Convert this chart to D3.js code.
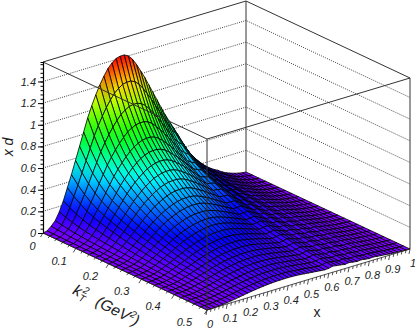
<!DOCTYPE html>
<html>
<head>
<meta charset="utf-8">
<script src="https://cdn.jsdelivr.net/npm/d3@7"></script>
<style>
  html, body { margin: 0; padding: 0; background: #fff; }
  svg { display: block; }
  text { font-family: "Liberation Sans", sans-serif; fill: #222; }
</style>
</head>
<body>
<svg id="chart" width="415" height="329"></svg>
<script>
// Mesh coordinates
const xMesh = [0, .02, .04, .06, .08, .1, .12, .14, .16, .18, .2, .22, .24, .26, .28, .3, .32, .34, .36, .38, .4, .42, .44, .46, .48, .5, .52, .54, .56, .58, .6, .62, .64, .66, .68, .7, .72, .74, .76, .78, .8, .82, .84, .86, .88, .9, .92, .94, .96, .98, 1];
const kMesh = [0, .02, .04, .06, .08, .1, .12, .14, .16, .18, .2, .22, .24, .26, .28, .3, .32, .34, .36, .38, .4, .42, .44, .46, .48, .5];

// x d, one row per kT^2 step, one column per x step
const zRows = [
  [0, .008, .04, .08, .15, .24, .35, .46, .58, .7, .82, .94, 1.04, 1.13, 1.21, 1.28, 1.34, 1.38, 1.41, 1.42, 1.42, 1.4, 1.36, 1.3, 1.23, 1.16, 1.08, 1, .92, .84, .76, .69, .62, .55, .47, .4, .34, .29, .245, .205, .17, .14, .115, .095, .07, .05, .035, .022, .012, .004, 0],
  [0, .007, .034, .068, .128, .204, .298, .391, .493, .595, .697, .799, .884, .96, 1.029, 1.088, 1.139, 1.173, 1.199, 1.207, 1.207, 1.19, 1.156, 1.105, 1.046, .986, .918, .85, .782, .714, .65, .601, .54, .479, .409, .354, .301, .257, .221, .185, .153, .128, .105, .087, .065, .046, .032, .02, .011, .004, 0],
  [0, .006, .029, .058, .109, .174, .254, .334, .42, .508, .595, .682, .754, .819, .877, .928, .972, 1, 1.022, 1.03, 1.03, 1.015, .986, .943, .892, .841, .783, .725, .667, .609, .56, .525, .472, .419, .358, .314, .267, .228, .199, .166, .138, .117, .096, .08, .06, .043, .03, .019, .01, .003, 0],
  [0, .005, .025, .05, .094, .15, .219, .288, .363, .438, .513, .588, .65, .706, .756, .8, .838, .863, .881, .888, .888, .875, .85, .813, .769, .725, .675, .625, .575, .525, .49, .463, .416, .369, .315, .281, .239, .204, .181, .151, .125, .108, .089, .073, .055, .04, .028, .017, .009, .003, 0],
  [0, .004, .022, .044, .082, .131, .191, .251, .316, .382, .447, .512, .567, .616, .659, .698, .73, .752, .768, .774, .774, .763, .741, .709, .67, .632, .589, .545, .501, .458, .43, .412, .37, .328, .281, .254, .216, .184, .165, .138, .115, .1, .082, .068, .052, .037, .026, .016, .009, .003, 0],
  [0, .004, .019, .039, .073, .116, .17, .223, .281, .34, .398, .456, .504, .548, .587, .621, .65, .669, .684, .689, .689, .679, .66, .631, .597, .563, .524, .485, .446, .407, .39, .373, .335, .298, .254, .232, .198, .168, .153, .128, .106, .094, .077, .064, .049, .035, .024, .015, .008, .003, 0],
  [0, .003, .017, .035, .065, .104, .152, .2, .252, .305, .357, .409, .452, .492, .526, .557, .583, .6, .613, .618, .618, .609, .592, .566, .535, .505, .47, .435, .4, .365, .35, .34, .306, .271, .232, .214, .182, .155, .143, .119, .099, .089, .073, .06, .046, .033, .023, .015, .008, .003, 0],
  [0, .003, .016, .031, .059, .094, .137, .179, .226, .273, .32, .367, .406, .441, .472, .499, .523, .538, .55, .554, .554, .546, .53, .507, .48, .452, .421, .39, .359, .328, .32, .31, .278, .247, .211, .197, .168, .143, .133, .111, .092, .083, .069, .057, .044, .031, .022, .014, .007, .002, 0],
  [0, .003, .014, .028, .053, .084, .123, .161, .203, .245, .287, .329, .364, .396, .424, .448, .469, .483, .494, .497, .497, .49, .476, .455, .431, .406, .378, .35, .322, .294, .29, .283, .254, .226, .193, .182, .155, .132, .124, .104, .086, .079, .065, .053, .041, .03, .021, .013, .007, .002, 0],
  [0, .002, .012, .025, .047, .075, .109, .144, .181, .218, .256, .293, .324, .353, .378, .399, .418, .431, .44, .443, .443, .437, .424, .406, .384, .362, .337, .312, .287, .262, .26, .256, .23, .204, .174, .167, .142, .121, .115, .096, .08, .074, .061, .05, .039, .028, .02, .012, .007, .002, 0],
  [0, .002, .011, .022, .042, .067, .097, .128, .161, .195, .228, .261, .289, .314, .336, .356, .373, .384, .392, .395, .395, .389, .378, .361, .342, .322, .3, .278, .256, .234, .233, .233, .209, .185, .158, .153, .13, .111, .107, .089, .074, .069, .057, .047, .037, .026, .018, .012, .006, .002, 0],
  [0, .002, .01, .02, .038, .06, .088, .115, .145, .175, .205, .235, .26, .283, .303, .32, .335, .345, .353, .355, .355, .35, .34, .325, .308, .29, .27, .25, .23, .21, .21, .213, .191, .169, .145, .142, .12, .103, .099, .083, .069, .065, .054, .044, .035, .025, .018, .011, .006, .002, 0],
  [0, .002, .009, .018, .033, .053, .078, .102, .129, .155, .182, .209, .231, .251, .269, .284, .297, .306, .313, .315, .315, .311, .302, .289, .273, .258, .24, .222, .204, .186, .19, .192, .172, .153, .131, .129, .11, .094, .092, .077, .064, .061, .05, .042, .033, .024, .016, .01, .006, .002, 0],
  [0, .002, .008, .016, .03, .048, .069, .091, .115, .139, .162, .186, .206, .224, .24, .253, .265, .273, .279, .281, .281, .277, .269, .257, .244, .23, .214, .198, .182, .166, .17, .174, .156, .139, .118, .119, .101, .086, .086, .072, .059, .057, .047, .039, .031, .022, .016, .01, .005, .002, 0],
  [0, .001, .007, .014, .027, .043, .062, .082, .103, .125, .146, .167, .185, .201, .215, .228, .239, .246, .251, .253, .253, .249, .242, .231, .219, .206, .192, .178, .164, .15, .155, .159, .143, .127, .109, .11, .093, .079, .08, .067, .055, .054, .045, .037, .03, .021, .015, .009, .005, .002, 0],
  [0, .001, .006, .013, .024, .038, .056, .073, .092, .111, .13, .149, .165, .18, .192, .204, .213, .219, .224, .226, .226, .223, .216, .207, .196, .184, .172, .159, .146, .134, .14, .144, .13, .115, .098, .101, .086, .073, .074, .062, .052, .051, .042, .035, .028, .02, .014, .009, .005, .002, 0],
  [0, .001, .006, .011, .021, .034, .05, .065, .082, .099, .116, .133, .148, .16, .172, .182, .19, .196, .2, .202, .202, .199, .193, .185, .175, .165, .153, .142, .131, .119, .125, .131, .118, .105, .089, .092, .079, .067, .069, .058, .048, .048, .039, .032, .026, .019, .013, .008, .005, .002, 0],
  [0, .001, .005, .01, .019, .03, .044, .058, .074, .089, .104, .119, .132, .144, .154, .163, .17, .175, .179, .18, .18, .178, .173, .165, .156, .147, .137, .127, .117, .107, .113, .119, .107, .095, .081, .085, .072, .062, .064, .054, .044, .045, .037, .03, .025, .018, .012, .008, .004, .001, 0],
  [0, .001, .005, .009, .017, .027, .04, .052, .066, .079, .093, .106, .118, .128, .137, .145, .151, .156, .159, .16, .16, .158, .154, .147, .139, .131, .122, .113, .104, .095, .1, .108, .097, .086, .074, .078, .066, .057, .059, .05, .041, .042, .035, .029, .024, .017, .012, .007, .004, .001, 0],
  [0, .001, .004, .008, .015, .024, .035, .046, .059, .071, .083, .095, .105, .114, .122, .129, .135, .139, .142, .143, .143, .141, .137, .131, .124, .117, .109, .101, .093, .085, .09, .099, .089, .079, .067, .072, .061, .052, .055, .046, .038, .04, .033, .027, .022, .016, .011, .007, .004, .001, 0],
  [0, .001, .004, .007, .014, .022, .032, .041, .052, .063, .074, .085, .094, .102, .109, .115, .121, .124, .127, .128, .128, .126, .122, .117, .111, .104, .097, .09, .083, .076, .08, .089, .08, .071, .061, .066, .056, .048, .051, .043, .036, .037, .031, .025, .021, .015, .011, .007, .004, .001, 0],
  [0, .001, .003, .006, .012, .019, .028, .037, .047, .057, .066, .076, .084, .092, .098, .104, .109, .112, .114, .115, .115, .113, .11, .105, .1, .094, .087, .081, .075, .068, .072, .081, .073, .065, .055, .061, .052, .044, .048, .04, .033, .035, .029, .024, .02, .014, .01, .006, .003, .001, 0],
  [0, .001, .003, .006, .011, .017, .025, .033, .042, .05, .059, .068, .075, .081, .087, .092, .096, .099, .102, .102, .102, .101, .098, .094, .089, .084, .078, .072, .066, .06, .065, .074, .066, .059, .05, .056, .047, .04, .044, .037, .031, .033, .027, .022, .019, .013, .009, .006, .003, .001, 0],
  [0, .001, .003, .005, .01, .016, .023, .03, .038, .046, .053, .061, .068, .073, .079, .083, .087, .09, .092, .092, .092, .091, .088, .085, .08, .075, .07, .065, .06, .055, .058, .068, .061, .054, .046, .052, .044, .037, .041, .035, .029, .031, .026, .021, .018, .013, .009, .006, .003, .001, 0],
  [0, 0, .002, .005, .009, .014, .02, .027, .034, .041, .048, .055, .06, .066, .07, .074, .078, .08, .082, .082, .082, .081, .079, .075, .071, .067, .063, .058, .053, .049, .052, .061, .055, .049, .042, .047, .04, .034, .038, .032, .027, .029, .024, .02, .017, .012, .008, .005, .003, .001, 0],
  [0, 0, .002, .004, .008, .012, .018, .024, .03, .036, .043, .049, .054, .059, .063, .067, .07, .072, .073, .074, .074, .073, .071, .068, .064, .06, .056, .052, .048, .044, .047, .056, .05, .045, .038, .044, .037, .032, .036, .03, .025, .028, .023, .019, .016, .011, .008, .005, .003, .001, 0]
];

// Tick values and labels
const zTicks = [0, .2, .4, .6, .8, 1, 1.2, 1.4];
const kTicks = [0, .1, .2, .3, .4, .5];
const xTicks = [0, .1, .2, .3, .4, .5, .6, .7, .8, .9, 1];
const zMax = 1.58;

// Colour stops of the palette over x d
const colorValues = [0, .2, .52, .82, 1.16, 1.4];
const colorStops = ['#8000ff', '#0000ff', '#00ffff', '#00ff00', '#ffff00', '#ff0000'];

const svg = d3.select('#chart');
const defs = svg.append('defs');

// Oblique projection of the box, one scale per screen direction
const xToLeft = d3.scaleLinear().domain([0, 1]).range([0, 203]);
const xToTop = d3.scaleLinear().domain([0, 1]).range([0, -61]);
const kToLeft = d3.scaleLinear().domain([0, .5]).range([0, 164]);
const kToTop = d3.scaleLinear().domain([0, .5]).range([0, 77]);
const zToTop = d3.scaleLinear().domain([0, zMax]).range([0, -171]);
const originX = 43;
const originY = 233;

const project = (x, k, z) => [
  originX + xToLeft(x) + kToLeft(k),
  originY + xToTop(x) + kToTop(k) + zToTop(z)
];

const color = d3.scaleLinear().domain(colorValues).range(colorStops).interpolate(d3.interpolateRgb).clamp(true);
const line = d3.line();

const segment = (g, a, b) => g.append('path').attr('d', line([a, b]));

// Back walls: edges and dotted z grid
const back = svg.append('g').attr('fill', 'none');
const boxBack = back.append('g').attr('stroke', '#333').attr('stroke-width', 1);
segment(boxBack, project(1, 0, 0), project(1, 0, zMax));
segment(boxBack, project(1, .5, 0), project(1, .5, zMax));
segment(boxBack, project(0, 0, zMax), project(1, 0, zMax));
segment(boxBack, project(1, 0, zMax), project(1, .5, zMax));

const gridLines = back.append('g').attr('stroke', '#444').attr('stroke-dasharray', '1 1.2');
zTicks.filter(z => z > 0).forEach(z => {
  gridLines.append('path').attr('d', line([project(0, 0, z), project(1, 0, z), project(1, .5, z)]));
});

// Surface, painted from the back corner towards the viewer
const cells = [];
kMesh.slice(0, -1).forEach((k, j) => {
  for (let i = xMesh.length - 2; i >= 0; i--) {
    const corners = [[i, j], [i + 1, j], [i + 1, j + 1], [i, j + 1]].map(([a, b]) => ({
      point: project(xMesh[a], kMesh[b], zRows[b][a]),
      value: zRows[b][a]
    }));
    cells.push({
      id: `cell-${j}-${i}`,
      points: corners.map(c => c.point),
      high: corners[d3.greatestIndex(corners, c => c.value)],
      low: corners[d3.leastIndex(corners, c => c.value)]
    });
  }
});

// Each cell shades from its highest corner to its lowest one
const shades = defs.selectAll('linearGradient')
  .data(cells)
  .join('linearGradient')
  .attr('id', d => d.id)
  .attr('gradientUnits', 'userSpaceOnUse')
  .attr('x1', d => d.high.point[0])
  .attr('y1', d => d.high.point[1])
  .attr('x2', d => d.low.point[0])
  .attr('y2', d => d.low.point[1]);
shades.append('stop').attr('offset', '0%').attr('stop-color', d => color(d.high.value));
shades.append('stop').attr('offset', '100%').attr('stop-color', d => color(d.low.value));

svg.append('g')
  .attr('stroke', '#000')
  .attr('stroke-width', .8)
  .attr('stroke-linejoin', 'round')
  .selectAll('path')
  .data(cells)
  .join('path')
  .attr('d', d => line(d.points) + 'Z')
  .attr('fill', d => `url(#${d.id})`);

// Front edges of the box sit on top of the surface
const front = svg.append('g').attr('fill', 'none').attr('stroke', '#333').attr('stroke-width', 1);
segment(front, project(0, .5, 0), project(0, .5, zMax));
segment(front, project(0, 0, zMax), project(0, .5, zMax));
segment(front, project(0, .5, zMax), project(1, .5, zMax));

// z axis
const zScale = d3.scaleLinear().domain([0, zMax]).range([originY, originY - 171]);
svg.append('g')
  .attr('transform', `translate(${originX},0)`)
  .call(d3.axisLeft(zScale).tickValues(d3.range(0, zMax, .04)).tickSize(2.5).tickFormat(''))
  .call(g => g.select('.domain').attr('stroke-width', 1.2))
  .call(g => g.selectAll('.tick text').remove());

svg.append('g')
  .attr('transform', `translate(${originX},0)`)
  .call(d3.axisLeft(zScale).tickValues(zTicks).tickSize(5).tickPadding(2).tickFormat(d3.format('~g')))
  .call(g => g.select('.domain').remove())
  .call(g => g.selectAll('.tick text')
    .attr('font-family', '"Liberation Sans", sans-serif')
    .attr('font-size', 11)
    .attr('font-style', 'italic')
    .attr('fill', '#222'));

// k and x axes along the floor
const floorAxis = (start, end, minorStep, ticks, pointAt, minorOffset, majorOffset) => {
  const g = svg.append('g').attr('stroke', '#222').attr('stroke-width', .8);
  segment(g, start, end);
  const count = Math.round((ticks[ticks.length - 1] - ticks[0]) / minorStep);
  for (let n = 0; n <= count; n++) {
    const value = n * minorStep;
    const p = pointAt(value);
    const offset = n % 5 === 0 ? majorOffset : minorOffset;
    segment(g, p, [p[0] + offset[0], p[1] + offset[1]]);
  }
};

floorAxis(project(0, 0, 0), project(0, .5, 0), .02, kTicks, k => project(0, k, 0), [-1.5, 2], [-2.5, 4]);
floorAxis(project(0, .5, 0), project(1, .5, 0), .02, xTicks, x => project(x, .5, 0), [-.5, 3], [-1, 5]);

const tickText = svg.append('g')
  .attr('font-size', 11)
  .attr('font-style', 'italic');

tickText.selectAll('text.k')
  .data(kTicks)
  .join('text')
  .attr('class', 'k')
  .attr('x', d => project(0, d, 0)[0] - 7.5 - 15 * d)
  .attr('y', d => project(0, d, 0)[1] + 17 - 3 * d)
  .attr('text-anchor', 'end')
  .text(d3.format('~g'));

tickText.selectAll('text.x')
  .data(xTicks)
  .join('text')
  .attr('class', 'x')
  .attr('x', d => project(d, .5, 0)[0] + 3)
  .attr('y', d => project(d, .5, 0)[1] + 18)
  .attr('text-anchor', 'middle')
  .text(d3.format('~g'));

// Axis titles
svg.append('text')
  .attr('transform', 'translate(13,147) rotate(-90)')
  .attr('text-anchor', 'middle')
  .attr('font-size', 14)
  .attr('font-style', 'italic')
  .text('x d');

svg.append('text')
  .attr('x', 317)
  .attr('y', 317)
  .attr('text-anchor', 'middle')
  .attr('font-size', 14)
  .text('x');

const kTitle = svg.append('text')
  .attr('transform', 'translate(104,310) rotate(27)')
  .attr('text-anchor', 'middle')
  .attr('font-size', 15.5)
  .attr('font-style', 'italic');
kTitle.append('tspan').text('k');
kTitle.append('tspan').attr('font-size', 10).attr('dy', -6).attr('dx', 1).text('2');
kTitle.append('tspan').attr('font-size', 10).attr('dy', 9).attr('dx', -6).text('T');
kTitle.append('tspan').attr('dy', -3).attr('dx', 11).text('(GeV');
kTitle.append('tspan').attr('font-size', 10).attr('dy', -6).text('2');
kTitle.append('tspan').attr('dy', 6).text(')');
</script>
</body>
</html>
